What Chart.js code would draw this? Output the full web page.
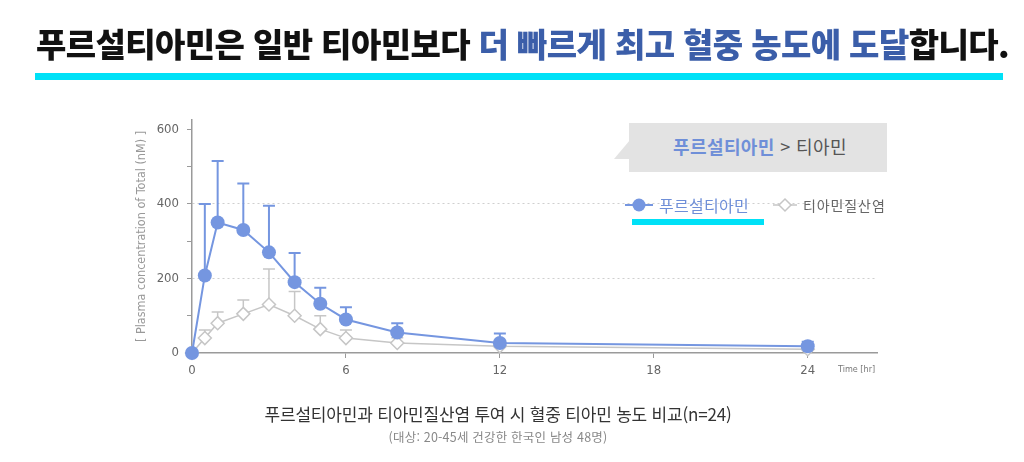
<!DOCTYPE html>
<html lang="ko">
<head>
<meta charset="utf-8">
<title>푸르설티아민 vs 티아민질산염</title>
<script src="https://cdn.jsdelivr.net/npm/chart.js@4/dist/chart.umd.min.js"></script>
<style>
  html, body { margin: 0; padding: 0; background: #fff; }
  body { width: 1024px; height: 462px; position: relative; overflow: hidden; font-family: "Noto Sans CJK KR", "Noto Sans", sans-serif; }
  #chartBox { position: absolute; left: 0; top: 0; width: 1024px; height: 462px; }
  .abs { position: absolute; white-space: nowrap; }
  #headline { left: 36px; top: 20px; font-size: 33px; font-weight: 900; color: #111; letter-spacing: -0.6px; line-height: 46px; }
  #headline .hl { color: #3b5ea9; }
  #cyanBar { left: 35px; top: 73px; width: 968px; height: 7px; background: #00e1f7; }
  #callout { left: 629px; top: 123px; width: 258px; height: 49px; background: #e3e3e3; }
  #calloutTip { left: 614px; top: 140px; width: 0; height: 0; border-top: 19px solid transparent; border-right: 16px solid #e3e3e3; }
  #calloutText { left: 631px; top: 123px; width: 258px; height: 49px; line-height: 47px; text-align: center; font-size: 18px; color: #555; letter-spacing: 0.4px; }
  #calloutText b { color: #6f8fd8; font-weight: 700; }
  .legend { top: 193px; height: 24px; display: flex; align-items: center; }
  #legBlue { left: 624px; font-size: 16px; color: #6f8fd8; letter-spacing: 0.3px; }
  #legGray { left: 772px; font-size: 14px; color: #666; letter-spacing: 0.9px; }
  .legend svg { margin-right: 5px; }
  #legUnder { left: 632px; top: 219px; width: 132px; height: 6px; background: #00e1f7; }
  #timeLabel { left: 838px; top: 364px; font-size: 9px; color: #777; font-family: "DejaVu Sans Condensed", "Liberation Sans Narrow", sans-serif; }
  #cap1 { left: 0; width: 996px; text-align: center; top: 401px; font-size: 17px; color: #333; letter-spacing: -0.2px; }
  #cap2 { left: 0; width: 996px; text-align: center; top: 427px; font-size: 12.5px; color: #888; letter-spacing: 0.2px; }
</style>
</head>
<body>
<div id="chartBox"><canvas id="pkChart" width="1024" height="462"></canvas></div>

<div id="headline" class="abs">푸르설티아민은 일반 티아민보다 <span class="hl">더 빠르게 최고 혈중 농도에 도달</span>합니다.</div>
<div id="cyanBar" class="abs"></div>

<div id="calloutTip" class="abs"></div>
<div id="callout" class="abs"></div>
<div id="calloutText" class="abs"><b>푸르설티아민</b> &gt; 티아민</div>

<div id="legBlue" class="abs legend">
  <svg width="30" height="16"><line x1="1" y1="8" x2="29" y2="8" stroke="#7596e0" stroke-width="2"/><circle cx="15" cy="8" r="6.5" fill="#7596e0"/></svg>푸르설티아민
</div>
<div id="legGray" class="abs legend">
  <svg width="26" height="16"><line x1="1" y1="8" x2="25" y2="8" stroke="#c6c6c6" stroke-width="1.5"/><polygon points="13,2 19,8 13,14 7,8" fill="#fff" stroke="#c6c6c6" stroke-width="1.5"/></svg>티아민질산염
</div>
<div id="legUnder" class="abs"></div>

<div id="timeLabel" class="abs">Time [hr]</div>
<div id="cap1" class="abs">푸르설티아민과 티아민질산염 투여 시 혈중 티아민 농도 비교(n=24)</div>
<div id="cap2" class="abs">(대상: 20-45세 건강한 한국인 남성 48명)</div>

<script>
// sampling times (hr)
const times = [0, 0.5, 1, 2, 3, 4, 5, 6, 8, 12, 24];

// 푸르설티아민 mean and upper SD (nM)
const fursultiamine = [0, 208, 350, 330, 270, 190, 132, 90, 55, 27, 18];
const fursultiamineSD = [0, 192, 165, 125, 125, 78, 43, 33, 25, 25, 12];

// 티아민질산염 mean and upper SD (nM)
const thiamineNitrate = [0, 40, 80, 105, 130, 100, 64, 40, 27, 18, 10];
const thiamineNitrateSD = [0, 22, 30, 37, 95, 65, 36, 22, 14, 6, 4];

const xTicks = [0, 6, 12, 18, 24];
const yTicks = [0, 100, 200, 300, 400, 500, 600];
const yLabelled = [0, 200, 400, 600];
const yGrid = [200, 400];

const BLUE = '#7596e0';
const GRAY = '#c6c6c6';
const AXIS = '#9a9a9a';
const NUM_FONT = '"DejaVu Sans Condensed", "Liberation Sans Narrow", sans-serif';

function toPoints(ys) {
    return times.map((t, i) => ({ x: t, y: ys[i] }));
}

// draws upper error bars just before each dataset, so markers sit on top
const errorBars = {
    id: 'errorBars',
    beforeDatasetDraw(chart, args) {
        const ds = chart.data.datasets[args.index];
        if (!ds.errors) return;
        const xs = chart.scales.x, ys = chart.scales.y;
        const ctx = chart.ctx;
        ctx.save();
        ctx.strokeStyle = ds.borderColor;
        ctx.lineWidth = ds.errorWidth;
        ds.data.forEach((p, i) => {
            const err = ds.errors[i];
            if (!err) return;
            const px = xs.getPixelForValue(p.x);
            const y0 = ys.getPixelForValue(p.y);
            const y1 = ys.getPixelForValue(p.y + err);
            ctx.beginPath();
            ctx.moveTo(px, y0);
            ctx.lineTo(px, y1);
            ctx.moveTo(px - 6, y1);
            ctx.lineTo(px + 6, y1);
            ctx.stroke();
        });
        ctx.restore();
    }
};

const ctx = document.getElementById('pkChart').getContext('2d');
new Chart(ctx, {
    type: 'line',
    data: {
        datasets: [
            {
                label: '푸르설티아민',
                data: toPoints(fursultiamine),
                errors: fursultiamineSD,
                errorWidth: 2,
                borderColor: BLUE,
                backgroundColor: BLUE,
                borderWidth: 2,
                pointRadius: 7,
                pointBorderWidth: 0,
                pointBackgroundColor: BLUE,
                tension: 0
            },
            {
                label: '티아민질산염',
                data: toPoints(thiamineNitrate),
                errors: thiamineNitrateSD,
                errorWidth: 1.5,
                borderColor: GRAY,
                backgroundColor: '#ffffff',
                borderWidth: 1.5,
                pointStyle: 'rectRot',
                pointRadius: 6.5,
                pointBorderWidth: 1.5,
                pointBorderColor: GRAY,
                pointBackgroundColor: '#ffffff',
                tension: 0
            }
        ]
    },
    options: {
        responsive: false,
        animation: false,
        clip: false,
        layout: { padding: { left: 132, right: 147, top: 120, bottom: 79 } },
        plugins: {
            legend: { display: false },
            tooltip: { enabled: false }
        },
        scales: {
            x: {
                type: 'linear',
                min: 0,
                max: 26.7,
                afterFit(scale) { scale.height = 30; },
                afterBuildTicks(scale) { scale.ticks = xTicks.map(v => ({ value: v })); },
                border: { color: AXIS, width: 1.5 },
                grid: {
                    drawOnChartArea: false,
                    tickLength: 5,
                    tickColor: c => c.tick && c.tick.value === 0 ? 'rgba(0,0,0,0)' : AXIS
                },
                ticks: {
                    color: '#666',
                    padding: 5,
                    maxRotation: 0,
                    font: { family: NUM_FONT, size: 13 },
                    callback: v => String(v)
                }
            },
            y: {
                min: 0,
                max: 625,
                afterFit(scale) { scale.width = 60; },
                afterBuildTicks(scale) { scale.ticks = yTicks.map(v => ({ value: v })); },
                border: { color: AXIS, width: 1.5, dash: [2, 3] },
                grid: {
                    drawOnChartArea: true,
                    tickLength: 5,
                    tickColor: c => c.tick && c.tick.value === 0 ? 'rgba(0,0,0,0)' : AXIS,
                    color: c => c.tick && yGrid.includes(c.tick.value) ? '#cfcfcf' : 'rgba(0,0,0,0)',
                    lineWidth: 1
                },
                ticks: {
                    color: '#666',
                    padding: 8,
                    font: { family: NUM_FONT, size: 13 },
                    callback: v => yLabelled.includes(v) ? String(v) : ''
                },
                title: {
                    display: true,
                    text: '[ Plasma concentration of Total (nM) ]',
                    color: '#999',
                    font: { family: NUM_FONT, size: 12.5 },
                    padding: { top: 2, bottom: 0 }
                }
            }
        }
    },
    plugins: [errorBars]
});
</script>
</body>
</html>
